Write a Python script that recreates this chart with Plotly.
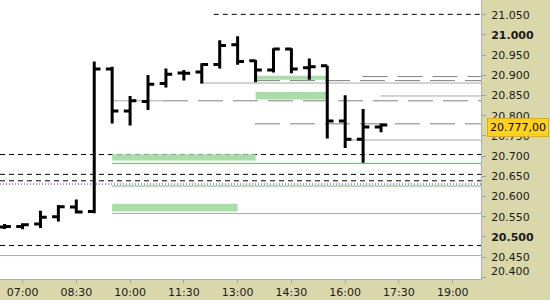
import plotly.graph_objects as go

DAY = "2024-11-15 "

# --- OHLC bars (30 min) ---
bar_times = ["06:30", "07:00", "07:30", "08:00", "08:30", "09:00", "09:30", "10:00",
             "10:30", "11:00", "11:30", "12:00", "12:30", "13:00", "13:30", "14:00",
             "14:30", "15:00", "15:30", "16:00", "16:30", "17:00"]
open_ = [20525, 20526, 20532, 20550, 20574, 20563, 20916, 20812, 20835, 20880, 20906,
         20908, 20927, 20976, 20936, 20913, 20965, 20919, 20924, 20787, 20742, 20772]
high = [20532, 20534, 20565, 20579, 20593, 20934, 20921, 20849, 20901, 20917, 20913,
        20930, 20987, 20997, 20938, 20967, 20967, 20942, 20924, 20851, 20817, 20781]
low = [20520, 20519, 20522, 20538, 20558, 20559, 20781, 20776, 20814, 20870, 20887,
       20880, 20917, 20926, 20883, 20907, 20905, 20889, 20744, 20720, 20684, 20759]
close = [20526, 20530, 20549, 20575, 20562, 20916, 20812, 20837, 20878, 20903, 20905,
         20927, 20974, 20934, 20913, 20965, 20916, 20921, 20787, 20742, 20772, 20777]
last_price = 20777
last_label = "20.777,00"

# --- horizontal levels ---
black_dash_levels = [21051, 20704, 20655, 20639, 20479]
black_dash_start = ["12:20", None, None, None, None]
purple_dot_levels = [20631]
gray_solid_levels = [20881, 20849, 20837, 20740, 20558, 20454]
gray_solid_start = ["11:57", "16:59", "09:30", "16:00", "09:30", None]
gray_solid_end = [None, None, "10:55", None, None, None]
gray_dash_levels = [20897, 20887, 20837, 20780]
gray_dash_start = ["16:29", "13:29", "10:55", "13:29"]
green_line_levels = [20682, 20626]
green_line_start = ["09:30", "09:30"]
green_band_low = [20889, 20840, 20689, 20563]
green_band_high = [20899, 20859, 20705, 20582]
green_band_start = ["13:30", "13:30", "09:30", "09:30"]
green_band_end = ["15:30", "15:30", "13:30", "13:00"]

# --- axes ---
x_range = ["06:22:18", "19:47:18"]
x_tick0 = "07:00"
x_dtick_min = 90
y_range = [20396, 21086.5]
ytick_vals = [20400, 20450, 20500, 20550, 20600, 20650, 20700, 20750, 20800,
              20850, 20900, 20950, 21000, 21050]
ytick_text = ["", "20.450", "<b>20.500</b>", "20.550", "20.600", "20.650", "20.700",
              "20.750", "20.800", "20.850", "20.900", "20.950", "<b>21.000</b>", "21.050"]
bottom_label_val = 20400
bottom_label_text = "20.400"

BEIGE = "#dad8aa"
FONT = "DejaVu Sans"

def t(s):
    return DAY + s

fig = go.Figure()

shapes = []
END = t("23:59")

def hline(y, x0, x1, color, width, dash):
    if x0 is None:
        shapes.append(dict(type="line", xref="paper", x0=0, x1=1, yref="y", y0=y, y1=y,
                           line=dict(color=color, width=width, dash=dash), layer="below"))
    else:
        shapes.append(dict(type="line", xref="x", x0=t(x0), x1=t(x1) if x1 else END,
                           yref="y", y0=y, y1=y,
                           line=dict(color=color, width=width, dash=dash), layer="below"))

for lo, hi, s, e in zip(green_band_low, green_band_high, green_band_start, green_band_end):
    shapes.append(dict(type="rect", xref="x", x0=t(s), x1=t(e), yref="y", y0=lo, y1=hi,
                       fillcolor="#a9dea9", line=dict(width=0), layer="below"))
for y, s in zip(green_line_levels, green_line_start):
    hline(y, s, None, "#5cc85c", 1, "solid")
for y, s, e in zip(gray_solid_levels, gray_solid_start, gray_solid_end):
    hline(y, s, e, "#a8a8a8", 1, "solid")
for y, s in zip(gray_dash_levels, gray_dash_start):
    hline(y, s, None, "#808080", 1, "25px,10px")
for y, s in zip(black_dash_levels, black_dash_start):
    hline(y, s, None, "#000000", 1, "5px,4px")
for y in purple_dot_levels:
    hline(y, None, None, "#9900cc", 1, "1px,2px")

fig.add_trace(go.Ohlc(
    x=[t(s) for s in bar_times], open=open_, high=high, low=low, close=close,
    increasing=dict(line=dict(color="black", width=3)),
    decreasing=dict(line=dict(color="black", width=3)),
    tickwidth=0.35, hoverinfo="skip", showlegend=False,
))

annotations = [
    dict(xref="paper", x=1, xshift=6, xanchor="left", yref="y", y=last_price,
         yanchor="middle", yshift=-2, text=last_label, showarrow=False,
         font=dict(family=FONT, size=11, color="#000000"),
         bgcolor="#ffd21a", bordercolor="#e6a817", borderwidth=1, borderpad=2),
    dict(xref="paper", x=1, xshift=8, xanchor="left", yref="y", y=bottom_label_val,
         yanchor="bottom", yshift=-3, text=bottom_label_text, showarrow=False,
         font=dict(family=FONT, size=11, color="#1a1a1a")),
]

fig.update_layout(
    width=550, height=300,
    margin=dict(l=0, r=69, t=0, b=21, pad=0),
    paper_bgcolor=BEIGE, plot_bgcolor="#ffffff",
    font=dict(family=FONT, size=11, color="#1a1a1a"),
    shapes=shapes, annotations=annotations,
    xaxis=dict(type="date", range=[t(x_range[0]), t(x_range[1])],
               tick0=t(x_tick0), dtick=x_dtick_min * 60000, tickformat="%H:%M",
               ticks="outside", ticklen=3, tickcolor="#a0a0a0",
               showgrid=False, zeroline=False, showline=True, linecolor="#b0b0b0",
               rangeslider=dict(visible=False), fixedrange=True),
    yaxis=dict(side="right", range=y_range, tickmode="array", tickvals=ytick_vals,
               ticktext=ytick_text, ticks="outside", ticklen=4, tickcolor="#a0a0a0",
               ticklabelstandoff=3,
               showgrid=False, zeroline=False, showline=True, linecolor="#b0b0b0",
               fixedrange=True),
    hovermode=False,
)

fig.write_html("out.html", config={"displayModeBar": False})
